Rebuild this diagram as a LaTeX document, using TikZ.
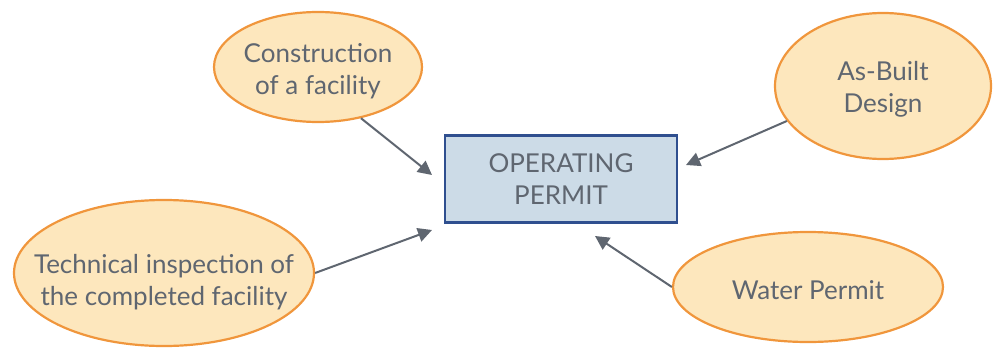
\documentclass[tikz,border=0pt]{standalone}
\usepackage{fontspec}
\setmainfont{Lato}
\usetikzlibrary{shapes.geometric,arrows.meta}
\definecolor{txtgray}{HTML}{5F6670}
\definecolor{ovalfill}{HTML}{FDE7BD}
\definecolor{ovalline}{HTML}{F0963C}
\definecolor{boxfill}{HTML}{CCDBE7}
\definecolor{boxline}{HTML}{2F4F8F}
\definecolor{arrowgray}{HTML}{5F6670}
\tikzset{
  labeltext/.style={text=txtgray, align=center, font=\fontsize{26}{32}\selectfont},
  oval/.style={ellipse, draw=ovalline, fill=ovalfill, line width=2.2pt, inner sep=0pt},
  permitbox/.style={rectangle, draw=boxline, fill=boxfill, line width=2.2pt,
    labeltext, minimum width=232pt, minimum height=87pt},
  feed/.style={draw=arrowgray, line width=2pt, -{Triangle[length=14pt,width=14pt]}}
}
\begin{document}
\begin{tikzpicture}[x=1pt,y=-1pt]
\useasboundingbox (0,0) rectangle (995,348);
\node[permitbox] (permit) at (561,179) {OPERATING\\PERMIT};
\node[oval, minimum width=208pt, minimum height=110pt,
  label={[labeltext,yshift=-4pt]center:Construction\\of a facility}] (build) at (318,67) {};
\node[oval, minimum width=216pt, minimum height=146pt,
  label={[labeltext,yshift=-3pt]center:As-Built\\Design}] (asbuilt) at (883,86) {};
\node[oval, minimum width=300pt, minimum height=146pt,
  label={[labeltext,yshift=-9pt]center:Technical inspection of\\the completed facility}] (inspect) at (164,273) {};
\node[oval, minimum width=270pt, minimum height=110pt,
  label={[labeltext,yshift=-3pt]center:Water Permit}] (water) at (808,287) {};
\coordinate (tipA) at (432,175);
\coordinate (tipB) at (686,165);
\coordinate (tipC) at (432,230);
\coordinate (tipD) at (595,236);
\draw[feed] (build.-50) -- (tipA);
\draw[feed] (asbuilt.200) -- (tipB);
\draw[feed] (inspect.east) -- (tipC);
\draw[feed] (water.west) -- (tipD);
\end{tikzpicture}
\end{document}
